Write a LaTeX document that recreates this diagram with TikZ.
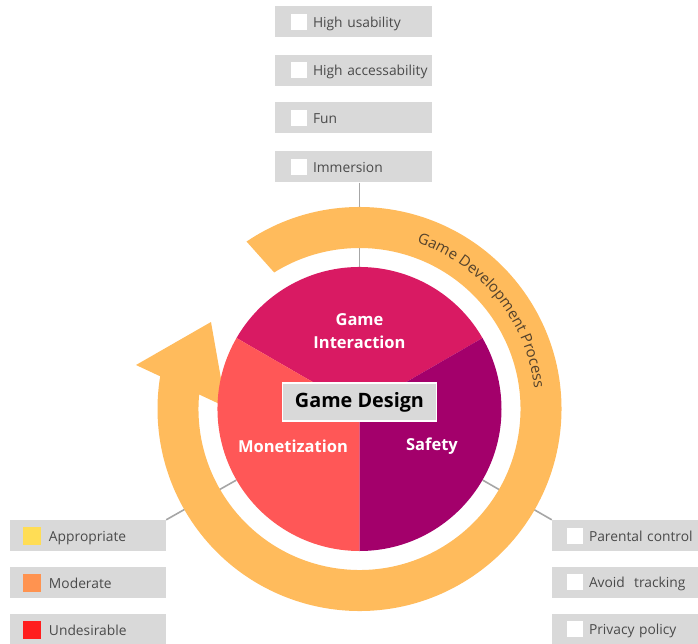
\documentclass[tikz,border=0pt]{standalone}
\usepackage{fontspec}
\setmainfont{Open Sans}
\usetikzlibrary{decorations.text}
\definecolor{ringfarge}{HTML}{FFBB5C}
\definecolor{interaksjon}{HTML}{D91A63}
\definecolor{monetisering}{HTML}{FF5757}
\definecolor{sikkerhet}{HTML}{A3006B}
\definecolor{boksgraa}{HTML}{D9D9D9}
\definecolor{tekstgraa}{HTML}{4A4A4A}
\definecolor{linjegraa}{HTML}{A6A6A6}
\definecolor{buetekst}{HTML}{54422C}
\definecolor{passende}{HTML}{FFDD55}
\definecolor{moderat}{HTML}{FF9350}
\definecolor{uonsket}{HTML}{FF1E1E}
\newcommand{\avkryss}[1]{\mbox{{\color{white}\rule[-2.5pt]{16pt}{16pt}}\kern6pt #1}}
\newcommand{\fargeboks}[2]{\mbox{{\color{#1}\rule[-3.5pt]{18pt}{18pt}}\kern8pt #2}}
\tikzset{
  boks/.style={fill=boksgraa, minimum height=31pt, inner ysep=0pt, inner xsep=16pt,
    text width=125pt, align=left, text=tekstgraa, font=\fontsize{13.8}{16}\selectfont},
  venstreboks/.style={boks, inner xsep=13pt, text width=130pt},
  hoyreboks/.style={boks, inner xsep=15pt, text width=126pt},
  sektortekst/.style={text=white, align=center, font=\fontsize{16.5}{23}\selectfont\bfseries},
  linje/.style={linjegraa, line width=1.6pt}
}
\begin{document}
\begin{tikzpicture}[x=1pt,y=1pt]
		\useasboundingbox (-359.5,-234) rectangle (338.5,409);
		% Sirkel (hjelpenode)
		\node[circle, minimum size=284pt, inner sep=0pt] (pie) at (0,0) {};
		% Krav, oppe
		\node[boks] (bruk) at (-6,387) {\avkryss{High usability}};
		\node[boks] (tilgang) at (-6,338.5) {\avkryss{High accessability}};
		\node[boks] (moro) at (-6,291) {\avkryss{Fun}};
		\node[boks] (innlevelse) at (-6,242) {\avkryss{Immersion}};
		% Skala, nede til venstre
		\node[venstreboks] (passende) at (-271.5,-126.5) {\fargeboks{passende}{Appropriate}};
		\node[venstreboks] (moderat) at (-271.5,-173.5) {\fargeboks{moderat}{Moderate}};
		\node[venstreboks] (uonsket) at (-271.5,-220.5) {\fargeboks{uonsket}{Undesirable}};
		% Krav, nede til hoyre
		\node[hoyreboks] (foreldre) at (270.5,-126.5) {\avkryss{Parental control}};
		\node[hoyreboks] (sporing) at (270.5,-173.5) {\avkryss{Avoid~ tracking}};
		\node[hoyreboks] (personvern) at (270.5,-220.5) {\avkryss{Privacy policy}};
		% Forbindelser
		\draw[linje] (innlevelse.south -| pie.north) -- (pie.north);
		\draw[linje] (passende.north east) -- (pie.210);
		\draw[linje] (foreldre.north west) -- (pie.330);
		% Utviklingsprosess (ring med pil)
		\fill[ringfarge] (124:202) arc (124:-189.5:202) -- (-189.5:161) arc (-189.5:122:161) -- cycle;
		\fill[ringfarge] (-223.5,44) -- (-148.5,87) -- (-133.5,2) -- cycle;
		\path[decorate, decoration={text along path, text color=buetekst,
		  text={|\fontsize{15}{17}\selectfont|Game Development Process}}] (71:176) arc (71:0:176);
		% Sektorer
		\fill[interaksjon] (0,0) -- (30:142) arc (30:150:142) -- cycle;
		\fill[monetisering] (0,0) -- (150:142) arc (150:270:142) -- cycle;
		\fill[sikkerhet] (0,0) -- (270:142) arc (270:390:142) -- cycle;
		\node[sektortekst] (spill) at (0,78) {Game\\Interaction};
		\node[sektortekst] (penger) at (-66.5,-37) {Monetization};
		\node[sektortekst] (trygg) at (72.5,-37) {Safety};
		% Midten
		\node[fill=boksgraa, draw=white, line width=1.5pt, minimum width=154pt, minimum height=38pt,
		  font=\fontsize{19.8}{22}\selectfont\bfseries] (design) at (0,7) {Game Design};
	\end{tikzpicture}
\end{document}
